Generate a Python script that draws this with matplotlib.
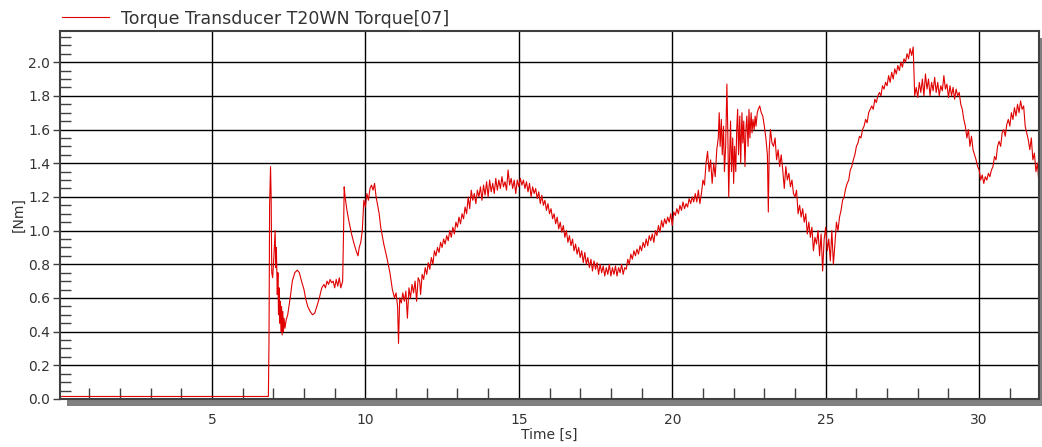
import numpy as np
import matplotlib
matplotlib.use("Agg")
import matplotlib.pyplot as plt
from matplotlib.patches import Rectangle
from matplotlib.ticker import MultipleLocator

# ---------------------------------------------------------------------------
# Dados (tempo em s, torque em Nm)
# ---------------------------------------------------------------------------

serie = "Torque Transducer T20WN Torque[07]"
xticks = [5, 10, 15, 20, 25, 30]
yticks = [0.0, 0.2, 0.4, 0.6, 0.8, 1.0, 1.2, 1.4, 1.6, 1.8, 2.0]

# partida (0 a 9.3 s)
t_partida = [0.05, 6.84, 6.86, 6.88, 6.91, 6.93, 6.95, 6.98, 7.02, 7.06,
             7.08, 7.10, 7.13, 7.15, 7.17, 7.19, 7.21, 7.23, 7.25, 7.27,
             7.29, 7.31, 7.33, 7.35, 7.38, 7.42, 7.47, 7.55, 7.62, 7.70,
             7.78, 7.85, 7.92, 8.00, 8.05, 8.12, 8.20, 8.28, 8.35, 8.42,
             8.50, 8.58, 8.65, 8.70, 8.75, 8.80, 8.85, 8.90, 8.95, 9.00,
             9.05, 9.10, 9.15, 9.20, 9.26]
v_partida = [0.015, 0.015, 0.34, 1.15, 1.38, 1.20, 0.75, 0.72, 0.85, 1.00,
             0.78, 0.90, 0.62, 0.75, 0.50, 0.66, 0.45, 0.58, 0.40, 0.55,
             0.38, 0.52, 0.40, 0.48, 0.42, 0.47, 0.50, 0.60, 0.70, 0.75,
             0.765, 0.75, 0.70, 0.65, 0.60, 0.55, 0.52, 0.50, 0.51, 0.55,
             0.60, 0.66, 0.68, 0.66, 0.70, 0.68, 0.71, 0.69, 0.70, 0.66,
             0.71, 0.67, 0.72, 0.66, 0.70]

# segundo pico e queda (9.3 a 11.8 s)
t_pico = [9.29, 9.31, 9.34, 9.40, 9.47, 9.55, 9.62, 9.70, 9.76, 9.80,
          9.85, 9.90, 9.95, 10.00, 10.05, 10.10, 10.15, 10.20, 10.25, 10.30,
          10.35, 10.40, 10.45, 10.50, 10.60, 10.70, 10.80, 10.88, 10.95, 11.00,
          11.05, 11.08, 11.12, 11.17, 11.22, 11.27, 11.32, 11.37, 11.42, 11.47,
          11.52, 11.57, 11.62, 11.67, 11.72, 11.77, 11.80]
v_pico = [1.00, 1.26, 1.20, 1.12, 1.05, 0.98, 0.93, 0.88, 0.85, 0.90,
          0.93, 1.00, 1.18, 1.14, 1.22, 1.18, 1.25, 1.27, 1.24, 1.28,
          1.20, 1.15, 1.10, 1.02, 0.92, 0.84, 0.75, 0.65, 0.60, 0.63,
          0.55, 0.33, 0.60, 0.57, 0.63, 0.58, 0.64, 0.48, 0.66, 0.60,
          0.68, 0.63, 0.70, 0.58, 0.72, 0.70, 0.62]

# primeira onda (11.8 a 20.9 s)
t_onda = [11.85, 11.90, 11.95, 12.00, 12.05, 12.10, 12.15, 12.20, 12.25, 12.30,
          12.35, 12.40, 12.45, 12.50, 12.55, 12.60, 12.65, 12.70, 12.75, 12.80,
          12.85, 12.90, 12.95, 13.00, 13.05, 13.10, 13.15, 13.20, 13.25, 13.30,
          13.35, 13.40, 13.45, 13.50, 13.55, 13.60, 13.65, 13.70, 13.75, 13.80,
          13.85, 13.90, 13.95, 14.00, 14.05, 14.10, 14.15, 14.20, 14.25, 14.30,
          14.35, 14.40, 14.45, 14.50, 14.55, 14.60, 14.65, 14.70, 14.75, 14.80,
          14.85, 14.90, 14.95, 15.00, 15.05, 15.10, 15.15, 15.20, 15.25, 15.30,
          15.35, 15.40, 15.45, 15.50, 15.55, 15.60, 15.65, 15.70, 15.75, 15.80,
          15.85, 15.90, 15.95, 16.00, 16.05, 16.10, 16.15, 16.20, 16.25, 16.30,
          16.35, 16.40, 16.45, 16.50, 16.55, 16.60, 16.65, 16.70, 16.75, 16.80,
          16.85, 16.90, 16.95, 17.00, 17.05, 17.10, 17.15, 17.20, 17.25, 17.30,
          17.35, 17.40, 17.45, 17.50, 17.55, 17.60, 17.65, 17.70, 17.75, 17.80,
          17.85, 17.90, 17.95, 18.00, 18.05, 18.10, 18.15, 18.20, 18.25, 18.30,
          18.35, 18.40, 18.45, 18.50, 18.55, 18.60, 18.65, 18.70, 18.75, 18.80,
          18.85, 18.90, 18.95, 19.00, 19.05, 19.10, 19.15, 19.20, 19.25, 19.30,
          19.35, 19.40, 19.45, 19.50, 19.55, 19.60, 19.65, 19.70, 19.75, 19.80,
          19.85, 19.90, 19.95, 20.00, 20.05, 20.10, 20.15, 20.20, 20.25, 20.30,
          20.35, 20.40, 20.45, 20.50, 20.55, 20.60, 20.65, 20.70, 20.75, 20.80,
          20.85, 20.90, 20.95]
v_onda = [0.74, 0.71, 0.78, 0.74, 0.81, 0.77, 0.84, 0.80, 0.88, 0.85,
          0.90, 0.87, 0.93, 0.90, 0.95, 0.92, 0.97, 0.94, 1.00, 0.96,
          1.02, 0.98, 1.05, 1.02, 1.08, 1.04, 1.10, 1.07, 1.14, 1.10,
          1.20, 1.13, 1.24, 1.18, 1.22, 1.16, 1.24, 1.20, 1.26, 1.18,
          1.27, 1.21, 1.29, 1.20, 1.30, 1.23, 1.28, 1.22, 1.31, 1.24,
          1.30, 1.25, 1.32, 1.26, 1.29, 1.24, 1.36, 1.27, 1.31, 1.25,
          1.30, 1.22, 1.30, 1.26, 1.31, 1.27, 1.30, 1.25, 1.29, 1.23,
          1.28, 1.20, 1.26, 1.22, 1.25, 1.19, 1.23, 1.16, 1.21, 1.15,
          1.18, 1.12, 1.16, 1.10, 1.13, 1.07, 1.10, 1.04, 1.08, 1.01,
          1.05, 0.99, 1.03, 0.96, 1.00, 0.93, 0.97, 0.91, 0.95, 0.88,
          0.92, 0.86, 0.90, 0.84, 0.88, 0.81, 0.87, 0.80, 0.84, 0.78,
          0.83, 0.76, 0.82, 0.77, 0.81, 0.74, 0.80, 0.75, 0.79, 0.73,
          0.78, 0.74, 0.80, 0.73, 0.78, 0.74, 0.79, 0.73, 0.78, 0.75,
          0.80, 0.74, 0.78, 0.77, 0.83, 0.80, 0.86, 0.83, 0.88, 0.85,
          0.89, 0.86, 0.91, 0.88, 0.93, 0.90, 0.95, 0.91, 0.97, 0.94,
          0.98, 0.93, 1.00, 0.97, 1.03, 0.99, 1.06, 1.02, 1.07, 1.04,
          1.08, 1.05, 1.10, 1.03, 1.11, 1.09, 1.13, 1.10, 1.15, 1.12,
          1.17, 1.13, 1.16, 1.14, 1.19, 1.16, 1.20, 1.17, 1.22, 1.17,
          1.24, 1.16, 1.22]

# zona de oscilação forte (21 a 25.4 s)
t_ruido = [21.00, 21.05, 21.10, 21.15, 21.20, 21.25, 21.30, 21.35, 21.40, 21.45,
           21.50, 21.53, 21.56, 21.60, 21.63, 21.67, 21.70, 21.74, 21.78, 21.81,
           21.84, 21.87, 21.90, 21.93, 21.97, 22.00, 22.03, 22.07, 22.10, 22.13,
           22.16, 22.20, 22.23, 22.27, 22.30, 22.33, 22.37, 22.40, 22.43, 22.47,
           22.50, 22.53, 22.57, 22.60, 22.63, 22.67, 22.70, 22.73, 22.77, 22.80,
           22.85, 22.90, 22.95, 23.00, 23.05, 23.10, 23.13, 23.16, 23.20, 23.25,
           23.30, 23.35, 23.40, 23.45, 23.50, 23.55, 23.60, 23.65, 23.70, 23.75,
           23.80, 23.85, 23.90, 23.95, 24.00, 24.05, 24.10, 24.15, 24.20, 24.25,
           24.30, 24.35, 24.40, 24.45, 24.50, 24.55, 24.60, 24.65, 24.70, 24.75,
           24.80, 24.85, 24.90, 24.95, 25.00, 25.05, 25.10, 25.15, 25.20, 25.25,
           25.30, 25.35, 25.40]
v_ruido = [1.30, 1.27, 1.40, 1.47, 1.35, 1.42, 1.28, 1.40, 1.32, 1.48,
           1.55, 1.70, 1.50, 1.66, 1.45, 1.62, 1.35, 1.50, 1.87, 1.58,
           1.20, 1.45, 1.65, 1.35, 1.55, 1.28, 1.50, 1.35, 1.60, 1.72,
           1.45, 1.68, 1.40, 1.70, 1.52, 1.65, 1.38, 1.60, 1.68, 1.50,
           1.72, 1.55, 1.70, 1.58, 1.66, 1.60, 1.68, 1.62, 1.70, 1.72,
           1.74, 1.70, 1.68, 1.62, 1.55, 1.45, 1.11, 1.48, 1.60, 1.52,
           1.50, 1.55, 1.42, 1.48, 1.38, 1.45, 1.36, 1.25, 1.38, 1.30,
           1.34, 1.26, 1.30, 1.22, 1.20, 1.24, 1.10, 1.15, 1.08, 1.13,
           1.05, 1.10, 0.98, 1.05, 0.96, 1.02, 0.88, 0.96, 0.92, 1.00,
           0.85, 0.98, 0.76, 0.95, 1.02, 0.88, 0.95, 0.82, 1.00, 0.80,
           0.92, 1.05, 1.00]

# subida até 2.08 Nm e final (25.45 a 31.95 s)
t_final = [25.45, 25.50, 25.55, 25.60, 25.65, 25.70, 25.75, 25.80, 25.85, 25.90,
           25.95, 26.00, 26.05, 26.10, 26.15, 26.20, 26.25, 26.30, 26.35, 26.40,
           26.45, 26.50, 26.55, 26.60, 26.65, 26.70, 26.75, 26.80, 26.85, 26.90,
           26.95, 27.00, 27.05, 27.10, 27.15, 27.20, 27.25, 27.30, 27.35, 27.40,
           27.45, 27.50, 27.55, 27.60, 27.65, 27.70, 27.75, 27.80, 27.85, 27.90,
           27.95, 28.00, 28.05, 28.10, 28.15, 28.20, 28.25, 28.30, 28.35, 28.40,
           28.45, 28.50, 28.55, 28.60, 28.65, 28.70, 28.75, 28.80, 28.85, 28.90,
           28.95, 29.00, 29.05, 29.10, 29.15, 29.20, 29.25, 29.30, 29.35, 29.40,
           29.45, 29.50, 29.55, 29.60, 29.65, 29.70, 29.75, 29.80, 29.85, 29.90,
           29.95, 30.00, 30.05, 30.10, 30.15, 30.20, 30.25, 30.30, 30.35, 30.40,
           30.45, 30.50, 30.55, 30.60, 30.65, 30.70, 30.75, 30.80, 30.85, 30.90,
           30.95, 31.00, 31.05, 31.10, 31.15, 31.20, 31.25, 31.30, 31.35, 31.40,
           31.45, 31.50, 31.55, 31.60, 31.65, 31.70, 31.75, 31.80, 31.85, 31.90,
           31.95]
v_final = [1.08, 1.12, 1.18, 1.20, 1.25, 1.28, 1.30, 1.36, 1.38, 1.42,
           1.45, 1.50, 1.52, 1.56, 1.55, 1.60, 1.62, 1.66, 1.64, 1.70,
           1.72, 1.74, 1.72, 1.78, 1.76, 1.80, 1.82, 1.80, 1.86, 1.84,
           1.88, 1.86, 1.92, 1.88, 1.94, 1.90, 1.96, 1.93, 1.98, 1.95,
           2.00, 1.97, 2.02, 2.00, 2.05, 2.02, 2.08, 2.04, 2.09, 1.80,
           1.85, 1.79, 1.88, 1.82, 1.90, 1.80, 1.93, 1.84, 1.90, 1.80,
           1.88, 1.83, 1.91, 1.82, 1.88, 1.80, 1.86, 1.83, 1.92, 1.84,
           1.87, 1.79, 1.86, 1.80, 1.85, 1.78, 1.84, 1.80, 1.82, 1.75,
           1.72, 1.66, 1.62, 1.55, 1.60, 1.50, 1.56, 1.48, 1.45, 1.42,
           1.38, 1.36, 1.30, 1.33, 1.28, 1.32, 1.30, 1.34, 1.32, 1.36,
           1.38, 1.44, 1.42, 1.50, 1.53, 1.50, 1.58, 1.60, 1.56, 1.63,
           1.66, 1.62, 1.70, 1.66, 1.73, 1.68, 1.75, 1.70, 1.77, 1.72,
           1.74, 1.62, 1.58, 1.54, 1.48, 1.55, 1.42, 1.46, 1.35, 1.40,
           1.27]

tempo = t_partida + t_pico + t_onda + t_ruido + t_final
torque = v_partida + v_pico + v_onda + v_ruido + v_final
assert len(tempo) == len(torque)

# ---------------------------------------------------------------------------
# Gráfico
# ---------------------------------------------------------------------------

W, H = 1042, 447
fig = plt.figure(figsize=(W / 100, H / 100), dpi=100)
fig.patch.set_facecolor("white")

# sombra cinza atrás da área do gráfico
x0, x1, y0, y1 = 60, 1039, 31, 399
fig.patches.append(Rectangle(((x0 + 7) / W, 1 - (y1 + 7) / H), (x1 - x0) / W, (y1 - y0) / H,
                             transform=fig.transFigure, facecolor="#808080",
                             edgecolor="none", zorder=0))

ax = fig.add_axes([x0 / W, 1 - y1 / H, (x1 - x0) / W, (y1 - y0) / H])
ax.set_facecolor("white")
ax.set_zorder(1)

ax.plot(tempo, torque, color="#e00000", linewidth=0.8, label=serie)

ax.set_xlim(0.05, 31.95)
ax.set_ylim(0, 2.185)
ax.set_xticks(xticks)
ax.set_yticks(yticks)
ax.set_yticklabels(["%.1f" % v for v in yticks])
ax.xaxis.set_minor_locator(MultipleLocator(1))
ax.yaxis.set_minor_locator(MultipleLocator(0.05))
ax.grid(True, which="major", color="black", linewidth=1.0)
ax.set_axisbelow(True)

ax.tick_params(axis="y", which="major", direction="out", length=5, width=1,
               color="#404040", labelsize=10, labelcolor="#333333", pad=2)
ax.tick_params(axis="x", which="major", direction="out", length=0,
               labelsize=10, labelcolor="#333333", pad=10)
ax.tick_params(which="minor", direction="in", length=8, width=1, color="#404040")

for s in ax.spines.values():
    s.set_color("#404040")
    s.set_linewidth(1.5)

ax.set_xlabel("Time [s]", fontsize=10, color="#333333", labelpad=1)
ax.set_ylabel("[Nm]", fontsize=10, color="#333333", labelpad=2)

ax.legend(loc="lower left", bbox_to_anchor=(-0.002, 1.0), frameon=False,
          borderaxespad=0.0, borderpad=0.2, handlelength=2.75, handletextpad=0.7,
          fontsize=12.5, labelcolor="#333333")

plt.savefig("out.png", dpi=100)
